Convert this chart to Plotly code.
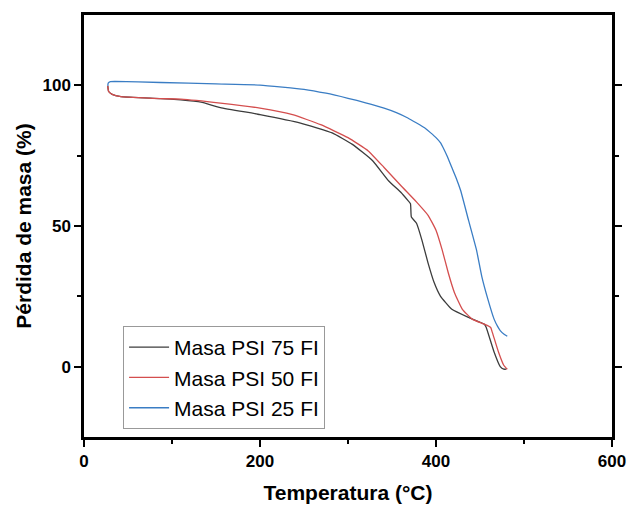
import plotly.graph_objects as go

# Curvas TGA
temp_75 = [27, 28, 32, 42, 87, 110, 133, 155, 200, 246, 282, 305, 328, 346, 360, 368, 371, 372, 378,
           384, 391, 398, 405, 418, 437, 455, 457, 466, 473, 477, 480]
masa_75 = [99.8, 97.8, 96.8, 96.0, 95.3, 94.8, 94.0, 92.1, 89.6, 86.6, 83.1, 79.0, 73.2, 66.1, 62.0,
           59.1, 57.9, 53.2, 50.9, 45.0, 36.8, 29.8, 25.1, 20.4, 17.5, 15.1, 14.0, 5.2, 0.0, -0.9, -0.9]

temp_50 = [27, 28, 32, 42, 87, 110, 155, 200, 237, 269, 300, 323, 341, 360, 378, 391, 400, 407, 414,
           421, 430, 441, 455, 462, 464, 471, 477, 481]
masa_50 = [99.8, 97.8, 96.8, 96.0, 95.3, 95.1, 93.7, 91.9, 89.6, 86.0, 81.4, 76.7, 70.8, 64.4, 58.5,
           53.8, 48.5, 41.5, 33.3, 26.3, 20.4, 16.9, 15.1, 14.0, 12.2, 5.2, 0.5, -0.9]

temp_25 = [27, 27.5, 30, 35, 87, 150, 200, 250, 275, 300, 320, 341, 355, 368, 378, 387, 394, 400, 405,
           409, 413, 418, 423, 428, 437, 446, 452, 459, 466, 470, 473, 477, 481]
masa_25 = [99.8, 100.8, 101.3, 101.4, 101.0, 100.5, 100.1, 98.6, 97.2, 95.4, 93.8, 91.9, 90.3, 88.4,
           86.6, 84.9, 83.1, 81.4, 79.6, 77.3, 74.6, 70.8, 67.0, 62.6, 52.0, 41.5, 32.1, 23.9, 16.9,
           14.3, 12.8, 11.6, 10.8]

FONT = 'Liberation Sans, Arial, sans-serif'

fig = go.Figure(layout=go.Layout(width=627, height=506,
                                 margin=dict(l=84, r=15, t=15, b=69),
                                 plot_bgcolor='white', paper_bgcolor='white'))

fig.add_scatter(x=temp_75, y=masa_75, mode='lines', name='Masa PSI 75 FI',
                line={'color': '#3c3c3c', 'width': 1.3, 'shape': 'spline', 'smoothing': 0.4})
fig.add_scatter(x=temp_50, y=masa_50, mode='lines', name='Masa PSI 50 FI',
                line={'color': '#d44e4e', 'width': 1.3, 'shape': 'spline', 'smoothing': 0.4})
fig.add_scatter(x=temp_25, y=masa_25, mode='lines', name='Masa PSI 25 FI',
                line={'color': '#3a7dc4', 'width': 1.3, 'shape': 'spline', 'smoothing': 0.4})

eje = dict(showgrid=False, zeroline=False, showline=True, linecolor='black', linewidth=2.5,
           ticks='outside', ticklen=7, tickwidth=2, tickcolor='black', automargin=False,
           tickfont=dict(family=FONT, size=17, color='black', weight='bold'))

fig.update_xaxes(range=[0, 600], dtick=200, mirror=True,
                 minor=dict(dtick=100, ticks='outside', ticklen=4, tickwidth=2, tickcolor='black'),
                 title=dict(text='Temperatura (°C)', standoff=16,
                            font=dict(family=FONT, size=21, color='black', weight='bold')),
                 **eje)
fig.update_yaxes(range=[-25, 125], tickvals=[0, 50, 100], mirror='ticks',
                 minor=dict(tickvals=[25, 75], ticks='outside', ticklen=4, tickwidth=2, tickcolor='black'),
                 title=dict(text='Pérdida de masa (%)', standoff=6,
                            font=dict(family=FONT, size=21, color='black', weight='bold')),
                 **eje)

fig.update_layout(legend=dict(x=0.074, y=0.263, xanchor='left', yanchor='top',
                              bgcolor='white', bordercolor='#999999', borderwidth=1,
                              font=dict(family=FONT, size=21, color='black'),
                              tracegroupgap=0, itemwidth=40),
                  showlegend=True)

# quitar el margen del body para que la figura ocupe la ventana
fig.write_html('out.html', config={'displayModeBar': False},
               post_script="document.body.style.margin='0px';document.body.style.overflow='hidden';")
